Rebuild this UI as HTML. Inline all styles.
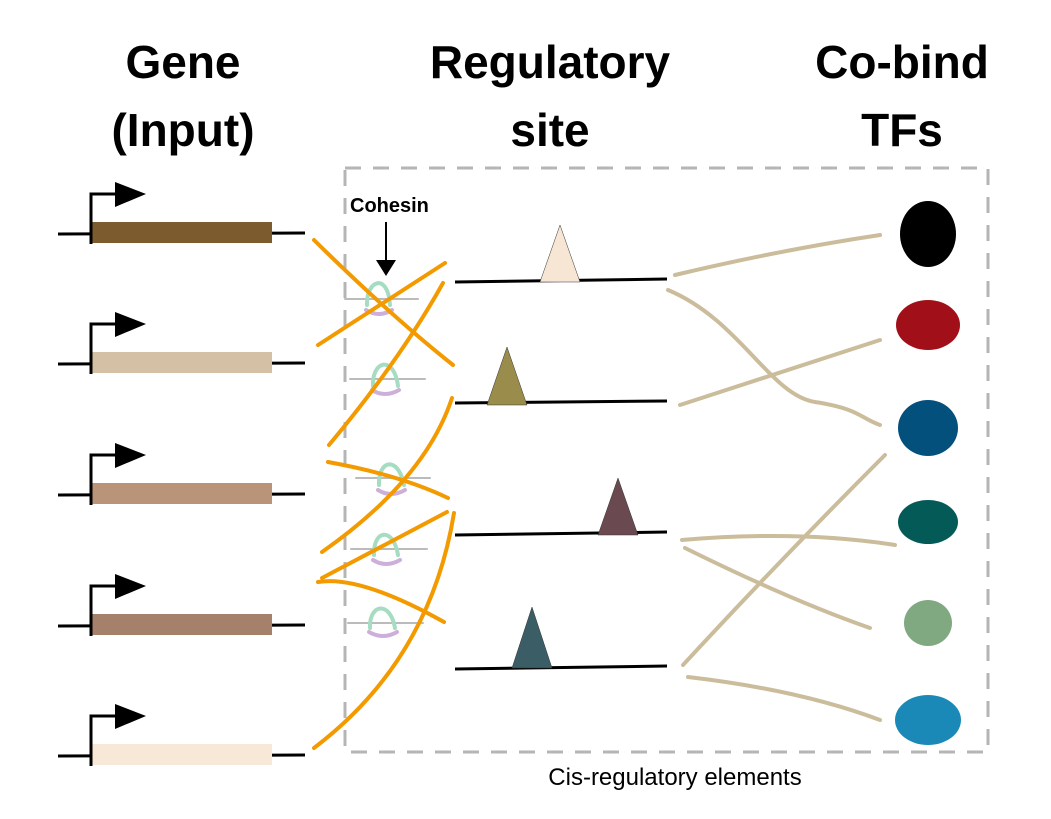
<!DOCTYPE html>
<html><head><style>body{margin:0;background:#fff}svg{display:block}</style></head><body>
<svg width="1051" height="819" viewBox="0 0 1051 819" xmlns="http://www.w3.org/2000/svg">
<g font-family="Liberation Sans, sans-serif" font-size="46" font-weight="bold" text-anchor="middle" fill="#000">
<text x="183" y="78">Gene</text><text x="183" y="146">(Input)</text>
<text x="550" y="78">Regulatory</text><text x="550" y="146">site</text>
<text x="902" y="78">Co-bind</text><text x="902" y="146">TFs</text>
</g>
<rect x="345" y="168" width="643" height="584" fill="none" stroke="#b5b5b5" stroke-width="3" stroke-dasharray="16,12"/>
<g id="genes">
<g transform="translate(0,0)"><line x1="58" y1="234" x2="305" y2="233" stroke="#000" stroke-width="3"/><rect x="92" y="222" width="180" height="21" fill="#7c5c2f"/><path d="M91 244V194H118" fill="none" stroke="#000" stroke-width="3"/><path d="M115 182L146 194L115 207Z"/></g>
<g transform="translate(0,130)"><line x1="58" y1="234" x2="305" y2="233" stroke="#000" stroke-width="3"/><rect x="92" y="222" width="180" height="21" fill="#d3c0a5"/><path d="M91 244V194H118" fill="none" stroke="#000" stroke-width="3"/><path d="M115 182L146 194L115 207Z"/></g>
<g transform="translate(0,261)"><line x1="58" y1="234" x2="305" y2="233" stroke="#000" stroke-width="3"/><rect x="92" y="222" width="180" height="21" fill="#b99479"/><path d="M91 244V194H118" fill="none" stroke="#000" stroke-width="3"/><path d="M115 182L146 194L115 207Z"/></g>
<g transform="translate(0,392)"><line x1="58" y1="234" x2="305" y2="233" stroke="#000" stroke-width="3"/><rect x="92" y="222" width="180" height="21" fill="#a5806a"/><path d="M91 244V194H118" fill="none" stroke="#000" stroke-width="3"/><path d="M115 182L146 194L115 207Z"/></g>
<g transform="translate(0,522)"><line x1="58" y1="234" x2="305" y2="233" stroke="#000" stroke-width="3"/><rect x="92" y="222" width="180" height="21" fill="#f8e8d8"/><path d="M91 244V194H118" fill="none" stroke="#000" stroke-width="3"/><path d="M115 182L146 194L115 207Z"/></g>
</g>
<g font-family="Liberation Sans, sans-serif" font-size="20" font-weight="bold"><text x="350" y="212">Cohesin</text></g>
<line x1="386" y1="222" x2="386" y2="262" stroke="#000" stroke-width="2"/><path d="M376 260L396 260L386 276Z"/>
<g stroke-width="4" fill="none" stroke-linecap="round">
<g stroke="#bbb" stroke-width="2"><line x1="345" y1="299" x2="418" y2="299"/><line x1="350" y1="379" x2="425" y2="379"/><line x1="356" y1="478" x2="430" y2="478"/><line x1="351" y1="549" x2="427" y2="549"/><line x1="348" y1="623" x2="423" y2="623"/></g>
<g stroke="#a6dcc2"><path d="M367 305C366 280 388 272 390 305"/><path d="M373 386C372 360 394 355 398 386"/><path d="M379 485C378 460 398 455 404 485"/><path d="M374 555C373 530 393 526 398 555"/><path d="M370 628C369 604 390 600 395 628"/></g>
<g stroke="#cdb0da"><path d="M366 310Q379 318 392 310"/><path d="M372 390Q385 398 399 390"/><path d="M378 490Q391 498 405 490"/><path d="M373 560Q386 568 400 560"/><path d="M369 632Q383 640 397 632"/></g>
</g>
<g stroke="#f29a00" stroke-width="4" fill="none" stroke-linecap="round">
<path d="M314 240Q390 315 453 365"/>
<path d="M318 345L445 263"/>
<path d="M329 445Q400 360 443 283"/>
<path d="M328 462Q400 475 448 498"/>
<path d="M322 552Q425 480 452 398"/>
<path d="M322 578L447 512"/>
<path d="M318 582Q360 575 444 622"/>
<path d="M314 748Q430 660 454 513"/>
</g>
<g stroke="#000" stroke-width="3"><line x1="455" y1="282" x2="667" y2="279"/><line x1="455" y1="403" x2="667" y2="401"/><line x1="455" y1="535" x2="667" y2="532"/><line x1="455" y1="669" x2="667" y2="666"/></g>
<g stroke="#333" stroke-width="0.5"><path d="M540 282L560 225L580 282Z" fill="#f8e6d5"/><path d="M487 405L507 347L527 405Z" fill="#9a8d4b"/><path d="M598 535L618 478L638 535Z" fill="#6a4a50"/><path d="M512 668L532 607L552 668Z" fill="#3a5d66"/></g>
<g stroke="#cbbd9c" stroke-width="4" fill="none" stroke-linecap="round">
<path d="M675 275Q780 250 880 235"/>
<path d="M668 290C740 320 770 395 815 402S860 418 880 425"/>
<path d="M680 405L880 340"/>
<path d="M682 540Q800 530 895 545"/>
<path d="M685 548Q790 600 870 628"/>
<path d="M683 665Q780 560 885 455"/>
<path d="M688 677Q800 690 880 720"/>
</g>
<ellipse cx="928" cy="234" rx="28" ry="33" fill="#000"/>
<ellipse cx="928" cy="325" rx="32" ry="25" fill="#a11018"/>
<ellipse cx="928" cy="428" rx="30" ry="28" fill="#04507d"/>
<ellipse cx="928" cy="522" rx="30" ry="22" fill="#045a56"/>
<ellipse cx="928" cy="623" rx="24" ry="23" fill="#80a982"/>
<ellipse cx="928" cy="720" rx="33" ry="25" fill="#1a89b7"/>
<text x="675" y="785" font-family="Liberation Sans, sans-serif" font-size="24" text-anchor="middle">Cis-regulatory elements</text>
</svg>
</body></html>
